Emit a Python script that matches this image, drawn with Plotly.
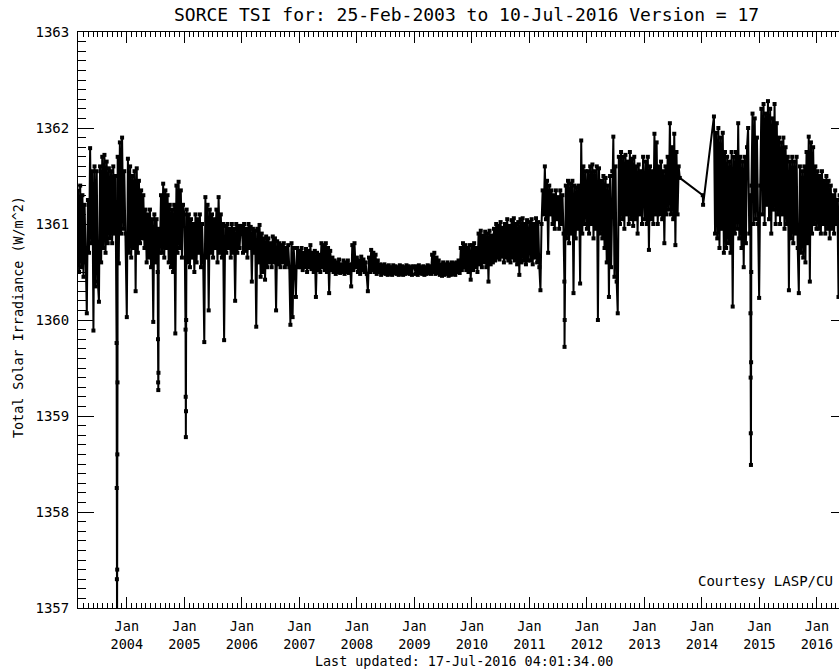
import pandas as pd
import plotly.graph_objects as go

# ---------------- data (weekly samples) ----------------
tsi_2003 = [1361.35, 1360.50, 1361.40, 1360.55, 1361.30, 1360.45, 1361.20, 1360.60, 1360.07, 1361.25,
            1360.70, 1361.79, 1360.80, 1361.55, 1359.89, 1361.60, 1360.35, 1361.55, 1360.40, 1360.19,
            1361.60, 1360.60, 1361.70, 1360.75, 1361.72, 1360.70, 1361.65, 1360.80, 1361.58, 1360.85,
            1361.55, 1360.80, 1361.60, 1360.90, 1361.50, 1359.76, 1361.70, 1360.59, 1361.85, 1360.90,
            1361.90, 1360.95, 1361.55, 1360.90]
tsi_2004 = [1360.03, 1361.68, 1360.70, 1361.60, 1360.65, 1361.50, 1360.75, 1361.55, 1360.30, 1361.58,
            1360.70, 1361.45, 1360.80, 1361.35, 1360.85, 1361.30, 1360.75, 1361.15, 1360.60, 1361.10,
            1360.65, 1361.15, 1360.55, 1361.05, 1359.98, 1361.10, 1360.60, 1361.05, 1360.50, 1360.95,
            1360.70, 1361.30, 1360.70, 1361.42, 1360.65, 1361.35, 1360.75, 1361.30, 1360.60, 1361.20,
            1360.55, 1361.15, 1360.50, 1361.20, 1359.86, 1361.40, 1360.70, 1361.44, 1360.75, 1361.35,
            1360.65, 1361.20]
tsi_2005 = [1361.10, 1359.90, 1361.15, 1360.60, 1361.10, 1360.55, 1361.05, 1360.65, 1361.00, 1360.50,
            1361.10, 1360.60, 1361.05, 1360.70, 1361.10, 1360.55, 1361.00, 1360.60, 1359.77, 1361.28,
            1360.65, 1361.20, 1360.10, 1361.15, 1360.70, 1361.10, 1360.65, 1361.05, 1360.75, 1361.15,
            1360.60, 1361.28, 1360.70, 1361.10, 1360.65, 1361.00, 1359.79, 1360.98, 1360.70, 1361.00,
            1360.75, 1360.95, 1360.65, 1361.00, 1360.70, 1360.95, 1360.20, 1361.00, 1360.70, 1360.98,
            1360.75, 1360.95]
tsi_2006 = [1360.98, 1360.70, 1361.00, 1360.72, 1360.95, 1360.65, 1361.00, 1360.75, 1360.97, 1360.40,
            1360.95, 1360.70, 1360.93, 1359.93, 1360.95, 1360.60, 1360.99, 1360.45, 1360.90, 1360.50,
            1360.85, 1360.42, 1360.87, 1360.55, 1360.85, 1360.60, 1360.80, 1360.55, 1360.87, 1360.60,
            1360.85, 1360.10, 1360.82, 1360.58, 1360.80, 1360.55, 1360.78, 1360.60, 1360.80, 1360.55,
            1360.75, 1360.58, 1360.78, 1360.55, 1359.95, 1360.80, 1360.03, 1360.75, 1360.53, 1360.24,
            1360.75, 1360.55]
tsi_2007 = [1360.72, 1360.55, 1360.75, 1360.52, 1360.70, 1360.55, 1360.74, 1360.50, 1360.72, 1360.55,
            1360.78, 1360.53, 1360.70, 1360.50, 1360.72, 1360.24, 1360.70, 1360.52, 1360.68, 1360.50,
            1360.80, 1360.55, 1360.78, 1360.52, 1360.80, 1360.50, 1360.75, 1360.28, 1360.72, 1360.52,
            1360.65, 1360.50, 1360.62, 1360.48, 1360.60, 1360.50, 1360.63, 1360.49, 1360.58, 1360.50,
            1360.62, 1360.48, 1360.60, 1360.50, 1360.62, 1360.49, 1360.58, 1360.35, 1360.78, 1360.52,
            1360.80, 1360.55]
tsi_2008 = [1360.65, 1360.50, 1360.62, 1360.48, 1360.66, 1360.52, 1360.63, 1360.50, 1360.60, 1360.48,
            1360.30, 1360.65, 1360.50, 1360.73, 1360.52, 1360.70, 1360.50, 1360.68, 1360.48, 1360.62,
            1360.50, 1360.58, 1360.47, 1360.57, 1360.49, 1360.58, 1360.48, 1360.56, 1360.47, 1360.57,
            1360.48, 1360.55, 1360.47, 1360.57, 1360.49, 1360.56, 1360.48, 1360.55, 1360.47, 1360.57,
            1360.48, 1360.56, 1360.47, 1360.55, 1360.48, 1360.57, 1360.49, 1360.56, 1360.48, 1360.55,
            1360.47, 1360.56]
tsi_2009 = [1360.55, 1360.48, 1360.56, 1360.47, 1360.57, 1360.49, 1360.55, 1360.48, 1360.56, 1360.47,
            1360.55, 1360.48, 1360.57, 1360.49, 1360.56, 1360.48, 1360.68, 1360.50, 1360.70, 1360.48,
            1360.65, 1360.49, 1360.62, 1360.47, 1360.58, 1360.46, 1360.60, 1360.47, 1360.58, 1360.48,
            1360.60, 1360.46, 1360.58, 1360.47, 1360.60, 1360.48, 1360.59, 1360.47, 1360.60, 1360.50,
            1360.62, 1360.49, 1360.75, 1360.52, 1360.80, 1360.55, 1360.78, 1360.52, 1360.75, 1360.50,
            1360.78, 1360.42]
tsi_2010 = [1360.78, 1360.52, 1360.80, 1360.55, 1360.75, 1360.50, 1360.90, 1360.58, 1360.93, 1360.55,
            1360.88, 1360.60, 1360.92, 1360.55, 1360.90, 1360.40, 1360.93, 1360.58, 1360.88, 1360.60,
            1360.95, 1360.62, 1361.00, 1360.65, 1360.98, 1360.63, 1361.02, 1360.66, 1360.96, 1360.60,
            1361.00, 1360.65, 1361.05, 1360.62, 1360.98, 1360.60, 1361.04, 1360.65, 1361.06, 1360.62,
            1361.00, 1360.58, 1361.02, 1360.47, 1361.05, 1360.60, 1361.06, 1360.62, 1361.00, 1360.58,
            1361.04, 1360.62]
tsi_2011 = [1361.02, 1360.62, 1361.05, 1360.58, 1361.00, 1360.65, 1361.06, 1360.60, 1361.02, 1360.55,
            1360.31, 1361.00, 1361.35, 1361.10, 1361.60, 1361.05, 1361.45, 1360.70, 1361.40, 1361.10,
            1361.35, 1361.00, 1361.30, 1360.95, 1361.35, 1361.05, 1361.28, 1360.95, 1361.35, 1361.00,
            1361.30, 1360.90, 1360.00, 1361.40, 1360.85, 1361.45, 1360.80, 1361.42, 1360.90, 1361.45,
            1360.28, 1361.40, 1360.85, 1361.38, 1360.95, 1361.40, 1360.38, 1361.87, 1360.90, 1361.60,
            1361.00, 1361.55]
tsi_2012 = [1360.95, 1361.55, 1360.90, 1361.60, 1361.00, 1361.62, 1360.85, 1361.55, 1360.95, 1361.60,
            1360.00, 1361.58, 1360.90, 1361.45, 1360.85, 1361.50, 1360.75, 1361.48, 1360.60, 1361.40,
            1360.24, 1361.50, 1360.55, 1361.55, 1361.91, 1360.45, 1361.60, 1360.40, 1360.07, 1361.70,
            1361.00, 1361.75, 1361.05, 1361.70, 1360.95, 1361.72, 1361.10, 1361.65, 1361.00, 1361.75,
            1361.05, 1361.68, 1360.98, 1361.70, 1361.05, 1361.60, 1360.90, 1361.62, 1361.10, 1361.55,
            1361.00, 1361.70]
tsi_2013 = [1361.05, 1361.65, 1361.00, 1361.70, 1360.73, 1361.60, 1361.05, 1361.55, 1361.00, 1361.94,
            1361.10, 1361.85, 1361.00, 1361.60, 1361.10, 1361.65, 1361.05, 1361.55, 1360.80, 1361.60,
            1361.10, 1361.70, 1361.15, 1362.05, 1361.10, 1361.80, 1361.05, 1361.94, 1360.78, 1361.75,
            1361.10, 1361.60, 1361.48]
tsi_2014 = [1362.12, 1360.90, 1361.95, 1360.85, 1362.00, 1360.75, 1361.90, 1360.95, 1361.95, 1360.70,
            1361.75, 1360.75, 1361.70, 1360.80, 1361.65, 1360.70, 1361.75, 1360.14, 1361.70, 1360.90,
            1361.75, 1360.95, 1362.05, 1360.85, 1361.70, 1360.75, 1361.65, 1360.55, 1361.70, 1360.80,
            1361.80, 1362.00, 1360.90, 1361.30, 1361.40, 1362.15, 1361.00, 1362.10, 1361.05, 1361.90,
            1361.00, 1360.23]
tsi_2015 = [1361.40, 1362.20, 1361.10, 1362.25, 1361.00, 1362.15, 1361.20, 1362.28, 1361.05, 1362.20,
            1360.90, 1362.10, 1361.15, 1362.25, 1361.00, 1362.05, 1361.10, 1361.90, 1361.00, 1361.85,
            1361.10, 1361.90, 1360.95, 1361.80, 1361.00, 1361.70, 1360.31, 1361.65, 1360.85, 1361.70,
            1360.80, 1361.65, 1360.90, 1361.70, 1360.75, 1360.28, 1361.60, 1360.70, 1361.55, 1360.65,
            1361.60, 1360.60, 1361.75, 1360.80, 1361.91, 1360.40, 1361.85, 1360.90, 1361.80, 1361.00,
            1361.60, 1360.95]
tsi_2016 = [1361.55, 1360.95, 1361.50, 1360.90, 1361.55, 1361.00, 1361.45, 1360.90, 1361.50, 1360.95,
            1361.45, 1360.85, 1361.40, 1360.95, 1361.30, 1360.90, 1361.35, 1361.00, 1361.25, 1360.24,
            1361.30, 1360.95, 1361.20, 1360.90, 1361.25, 1360.95, 1361.20]

segment_starts = ["2003-02-25", "2004-01-01", "2005-01-01", "2006-01-01", "2007-01-01",
                  "2008-01-01", "2009-01-01", "2010-01-01", "2011-01-01", "2012-01-01",
                  "2013-01-01", "2014-03-18", "2015-01-06", "2016-01-05"]
segment_values = [tsi_2003, tsi_2004, tsi_2005, tsi_2006, tsi_2007, tsi_2008, tsi_2009,
                  tsi_2010, tsi_2011, tsi_2012, tsi_2013, tsi_2014, tsi_2015, tsi_2016]

# sparse measurements during the 2013/2014 gap
gap_dates = ["2014-01-06", "2014-01-08"]
gap_values = [1361.30, 1361.20]

# daily points inside deep sunspot dips
dip_dates = ["2003-10-29", "2003-10-30", "2003-10-31", "2003-11-01", "2003-11-02", "2003-11-03",
             "2004-07-17", "2004-07-18", "2004-07-19", "2004-07-20",
             "2005-01-09", "2005-01-10", "2005-01-11", "2005-01-12",
             "2011-08-11", "2011-08-12",
             "2014-11-05", "2014-11-06", "2014-11-07", "2014-11-08", "2014-11-09", "2014-11-10"]
dip_values = [1358.25, 1357.30, 1356.60, 1357.40, 1358.60, 1359.35,
              1359.80, 1359.35, 1359.27, 1359.45,
              1359.20, 1358.78, 1359.05, 1360.00,
              1360.40, 1359.72,
              1360.07, 1359.40, 1358.82, 1358.49, 1359.56, 1360.50]

x_range = ["2003-02-25", "2016-07-10"]
y_range = [1357, 1363]

# ---------------- assemble ----------------
frames = []
for start, vals in zip(segment_starts, segment_values):
    frames.append(pd.DataFrame({"date": pd.date_range(start, periods=len(vals), freq="7D"),
                                "tsi": vals}))
frames.append(pd.DataFrame({"date": pd.to_datetime(gap_dates + dip_dates),
                            "tsi": gap_values + dip_values}))
df = pd.concat(frames).sort_values("date").reset_index(drop=True)

FONT = "DejaVu Sans Mono"
W, H = 850, 669
L, R, T, B = 78, 847, 32, 608
pw, ph = R - L, B - T


def px(x):
    return (x - L) / pw


def py(y):
    return (B - y) / ph


fig = go.Figure()
fig.add_trace(go.Scatter(
    x=df["date"], y=df["tsi"], mode="lines+markers",
    line=dict(color="black", width=2),
    marker=dict(symbol="square", size=4, color="black", line=dict(width=0)),
    showlegend=False, hoverinfo="skip"))

fig.update_layout(
    width=W, height=H,
    margin=dict(l=L, r=W - R, t=T, b=H - B, pad=0),
    plot_bgcolor="white", paper_bgcolor="white",
    font=dict(family=FONT, size=14, color="black"),
    xaxis=dict(
        type="date", range=x_range, showline=True, linecolor="black", linewidth=1,
        mirror="ticks", ticks="inside", ticklen=11, tickwidth=1, tickcolor="black",
        dtick="M12", tick0="2004-01-01", tickformat="%b<br>%Y", showgrid=False,
        zeroline=False, tickfont=dict(family=FONT, size=13.5), ticklabelstandoff=6,
        minor=dict(dtick="M1", ticks="inside", ticklen=5, tickcolor="black", tickwidth=1,
                   showgrid=False),
    ),
    yaxis=dict(
        range=y_range, showline=True, linecolor="black", linewidth=1, mirror="ticks",
        ticks="inside", ticklen=16, tickwidth=1, tickcolor="black", dtick=1,
        tickformat="d", showgrid=False, zeroline=False,
        tickfont=dict(family=FONT, size=14), ticklabelstandoff=5,
        minor=dict(dtick=0.1, ticks="inside", ticklen=8, tickcolor="black", tickwidth=1,
                   showgrid=False),
    ),
    annotations=[
        dict(text="SORCE TSI for: 25-Feb-2003 to 10-Jul-2016 Version = 17",
             xref="paper", yref="paper", x=px(466), y=py(14), xanchor="center",
             yanchor="middle", showarrow=False, font=dict(family=FONT, size=18)),
        dict(text="Total Solar Irradiance (W/m^2)", textangle=-90,
             xref="paper", yref="paper", x=px(18), y=py(317), xanchor="center",
             yanchor="middle", showarrow=False, font=dict(family=FONT, size=13.4)),
        dict(text="Last updated: 17-Jul-2016 04:01:34.00",
             xref="paper", yref="paper", x=px(463.5), y=py(661), xanchor="center",
             yanchor="middle", showarrow=False, font=dict(family=FONT, size=13.4)),
        dict(text="Courtesy LASP/CU",
             xref="paper", yref="paper", x=px(835), y=py(581), xanchor="right",
             yanchor="middle", showarrow=False, font=dict(family=FONT, size=14)),
    ],
)

fig.write_html("out.html",
               post_script="document.documentElement.style.overflow='hidden';"
                           "document.body.style.overflow='hidden';")
